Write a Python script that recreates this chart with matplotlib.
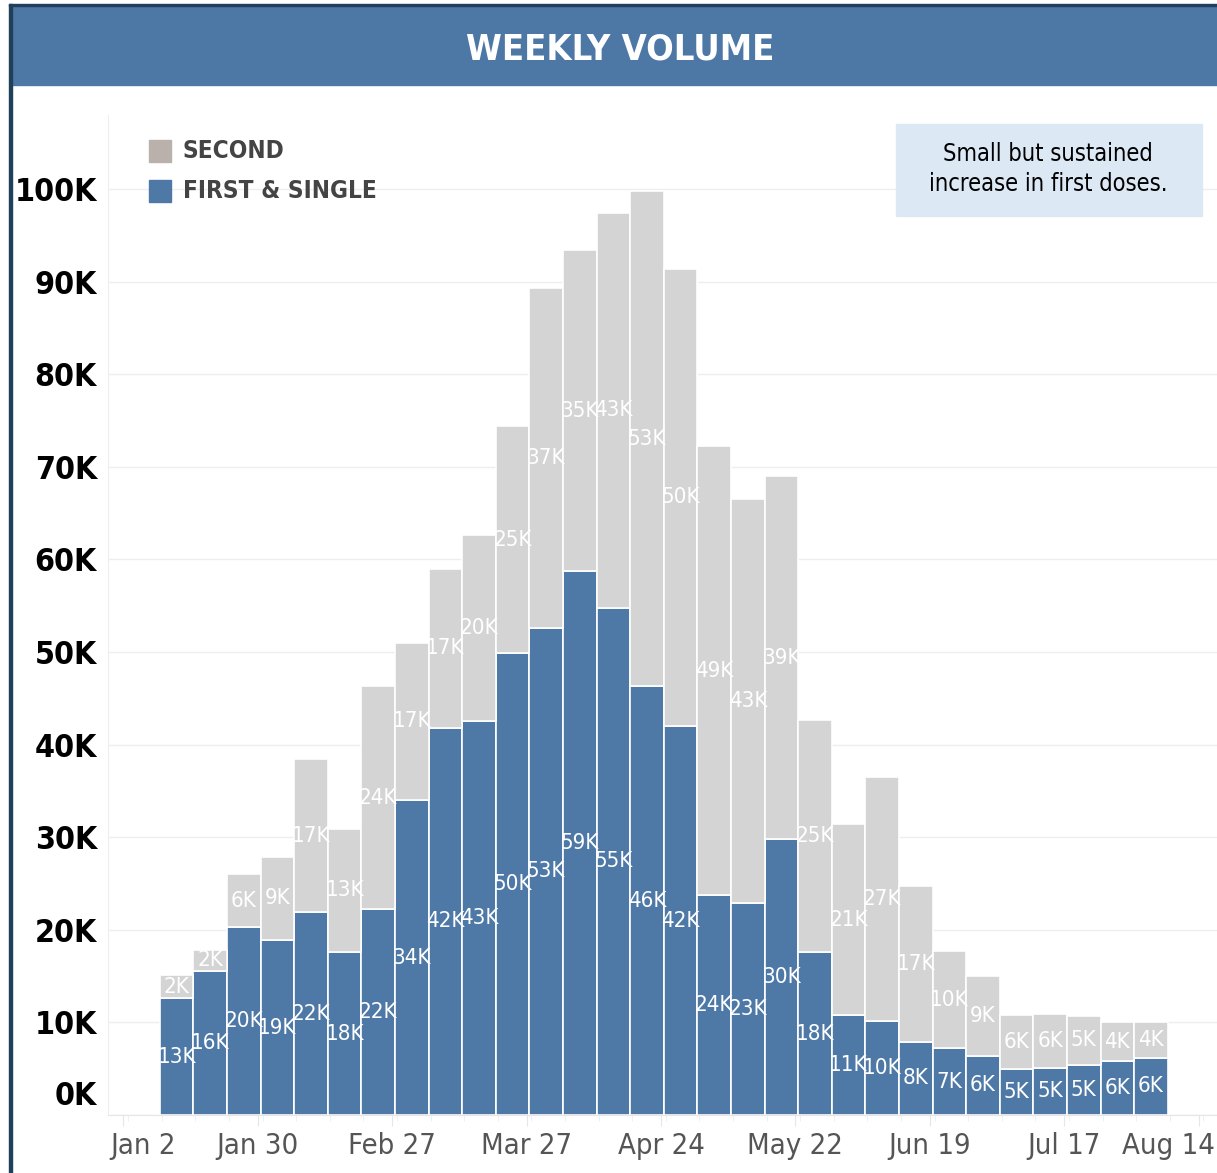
import matplotlib
matplotlib.use("Agg")
import matplotlib.pyplot as plt
import matplotlib.dates as mdates
from matplotlib import font_manager
from matplotlib.transforms import offset_copy
from matplotlib.patches import Rectangle
import pandas as pd

# weekly doses, in thousands
weeks = pd.date_range("2021-01-09", periods=30, freq="7D")
first = [12.6, 15.6, 20.3, 18.9, 21.9, 17.6, 22.2, 34.0, 41.8, 42.5,
         49.9, 52.6, 58.7, 54.8, 46.3, 42.0, 23.8, 22.9, 29.8, 17.6,
         10.8, 10.2, 7.9, 7.2, 6.4, 5.0, 5.1, 5.4, 5.8, 6.2]
second = [2.5, 2.2, 5.7, 9.0, 16.5, 13.3, 24.1, 17.0, 17.2, 20.1,
          24.5, 36.7, 34.7, 42.6, 53.5, 49.4, 48.4, 43.6, 39.2, 25.1,
          20.6, 26.3, 16.8, 10.5, 8.6, 5.8, 5.8, 5.3, 4.2, 3.8]
first_labels = ["13K", "16K", "20K", "19K", "22K", "18K", "22K", "34K", "42K", "43K",
                "50K", "53K", "59K", "55K", "46K", "42K", "24K", "23K", "30K", "18K",
                "11K", "10K", "8K", "7K", "6K", "5K", "5K", "5K", "6K", "6K"]
second_labels = ["2K", "2K", "6K", "9K", "17K", "13K", "24K", "17K", "17K", "20K",
                 "25K", "37K", "35K", "43K", "53K", "50K", "49K", "43K", "39K", "25K",
                 "21K", "27K", "17K", "10K", "9K", "6K", "6K", "5K", "4K", "4K"]
tick_dates = pd.date_range("2021-01-02", "2021-08-14", freq="28D")
y_ticks = list(range(0, 101, 10))

BLUE = "#4e79a7"
LIGHT = "#d4d4d4"
LEG_GREY = "#bab0ac"

names = {f.name for f in font_manager.fontManager.ttflist}
if "Liberation Sans Narrow" in names:
    FONT = dict(family="Liberation Sans Narrow")
else:
    FONT = dict(family="DejaVu Sans", stretch="condensed")
plt.rcParams["font.family"] = FONT["family"]

fig = plt.figure(figsize=(12.17, 11.73), dpi=100)

# header banner and left border
fig.patches.append(Rectangle((10/1217, 1 - 85/1173), 1 - 10/1217, 80/1173,
                             transform=fig.transFigure, color="#4d78a6", zorder=0))
fig.patches.append(Rectangle((9/1217, 0), 2.5/1217, 1 - 4/1173,
                             transform=fig.transFigure, color="#1f3f5a", zorder=1))
fig.patches.append(Rectangle((9/1217, 1 - 6/1173), 1, 2/1173,
                             transform=fig.transFigure, color="#1f3f5a", zorder=1))
fig.text(620/1217, 1 - 49/1173, "WEEKLY VOLUME", color="white", fontsize=26,
         fontweight="bold", ha="center", va="center", **FONT)

ax = fig.add_axes([108/1217, 1 - 1115/1173, 1 - 108/1217, 1000/1173])
width = pd.Timedelta(days=7)
shift = pd.Timedelta(days=0.6)
b1 = ax.bar(weeks + shift, first, width=width, align="edge", color=BLUE,
            edgecolor="white", linewidth=1.2, zorder=2)
b2 = ax.bar(weeks + shift, second, width=width, align="edge", bottom=first, color=LIGHT,
            edgecolor="white", linewidth=1.2, zorder=2)

half = pd.Timedelta(days=3.5) + shift
for d, f, s, lf, ls in zip(weeks, first, second, first_labels, second_labels):
    ax.text(d + half, f / 2, lf, color="white", fontsize=16, ha="center", va="center",
            zorder=3, **FONT)
    ax.text(d + half, f + s / 2, ls, color="white", fontsize=16, ha="center", va="center",
            zorder=3, **FONT)

ax.set_xlim(pd.Timestamp("2021-01-02") - pd.Timedelta(days=3.2),
            pd.Timestamp("2021-01-02") + pd.Timedelta(days=7 * 32.55))
ax.set_ylim(0, 108)
ax.set_yticks(y_ticks)
ax.set_yticklabels([f"{v}K" for v in y_ticks])
ax.set_xticks(tick_dates)
ax.set_xticklabels([d.strftime("%b ") + str(d.day) for d in tick_dates])
ax.xaxis.set_minor_locator(mdates.DayLocator(interval=7))

ax.grid(axis="y", color="#eeeeee", linewidth=1, zorder=0)
for side in ["top", "right"]:
    ax.spines[side].set_visible(False)
ax.spines["left"].set_color("#eeeeee")
ax.spines["bottom"].set_color("#e6e6e6")
ax.tick_params(axis="y", length=0, pad=8, labelsize=23, labelcolor="black")
ax.tick_params(axis="x", which="major", length=8, color="#e6e6e6", pad=4,
               labelsize=21, labelcolor="#555555")
ax.tick_params(axis="x", which="minor", length=4, color="#eeeeee")
for lab in ax.get_yticklabels():
    lab.set_fontweight("bold")
    lab.update(FONT)
for lab in ax.get_xticklabels():
    lab.update(FONT)
ylabs = ax.get_yticklabels()
ylabs[0].set_transform(offset_copy(ylabs[0].get_transform(), fig=fig, x=0, y=22, units="dots"))
xlabs = ax.get_xticklabels()
xlabs[0].set_transform(offset_copy(xlabs[0].get_transform(), fig=fig, x=20, y=0, units="dots"))
xlabs[-1].set_transform(offset_copy(xlabs[-1].get_transform(), fig=fig, x=-30, y=0, units="dots"))

# legend
for yy, col, txt in [(151, LEG_GREY, "SECOND"), (191, BLUE, "FIRST & SINGLE")]:
    fig.patches.append(Rectangle((149/1217, 1 - (yy + 11)/1173), 22/1217, 22/1173,
                                 transform=fig.transFigure, color=col, zorder=3))
    fig.text(183/1217, 1 - yy/1173, txt, color="#444444", fontsize=17.5, fontweight="bold",
             ha="left", va="center", **FONT)

# annotation
fig.patches.append(Rectangle((896/1217, 1 - 216/1173), 306/1217, 92/1173,
                             transform=fig.transFigure, color="#dce8f4", zorder=3))
fig.text(1048/1217, 1 - 169/1173, "Small but sustained\nincrease in first doses.",
         color="black", fontsize=17, fontweight="medium", ha="center", va="center",
         linespacing=1.3, zorder=4, **FONT)

fig.savefig("out.png", dpi=100)
